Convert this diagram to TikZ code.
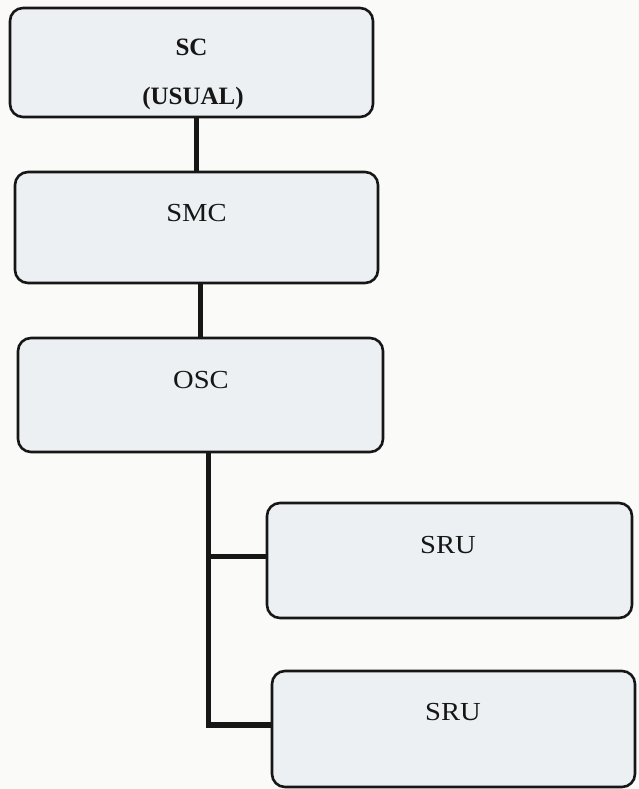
\documentclass[tikz,border=0pt]{standalone}
\usepackage{fontspec}
\setmainfont{Liberation Serif}
\usepackage{graphicx}
\definecolor{boxfill}{RGB}{236,240,243}
\definecolor{paper}{RGB}{250,250,249}
\definecolor{ink}{RGB}{22,22,22}
\begin{document}
\begin{tikzpicture}[x=1pt,y=-1pt,
  unitbox/.style={draw=ink, line width=2.6pt, fill=boxfill, rounded corners=13pt,
    rectangle, inner sep=0pt, minimum width=#1},
  unitbox/.default=364pt,
  plainlbl/.style={anchor=base, inner sep=0pt, text=ink,
    font=\fontsize{26}{30}\selectfont},
  boldlbl/.style={anchor=base, inner sep=0pt, text=ink,
    font=\fontsize{25}{30}\selectfont\bfseries},
  link/.style={draw=ink, line width=5.5pt, line join=miter}]
  % page
  \fill[paper] (0,0) rectangle (639,789);
  \useasboundingbox (0,0) rectangle (639,789);

  % boxes of the hierarchy
  \node[unitbox=363pt, minimum height=109pt] (sc)   at (191.5,62.5) {};
  \node[unitbox=363pt, minimum height=111pt] (smc)  at (196.5,227.5) {};
  \node[unitbox=365pt, minimum height=114pt] (osc)  at (200.5,395) {};
  \node[unitbox=365pt, minimum height=115pt] (sru1) at (449.5,560.5) {};
  \node[unitbox=363pt, minimum height=116pt] (sru2) at (453.5,729) {};

  % labels
  \node[boldlbl]  (sct)   at (191.5,56)  {SC};
  \node[boldlbl]  (scu)   at (193,105)   {(USUAL)};
  \node[plainlbl] (smct)  at (196.5,221) {\scalebox{1.1}[1]{SMC}};
  \node[plainlbl] (osct)  at (201,388)   {\scalebox{1.1}[1]{OSC}};
  \node[plainlbl] (sru1t) at (448,553)   {\scalebox{1.1}[1]{SRU}};
  \node[plainlbl] (sru2t) at (453,720)   {\scalebox{1.1}[1]{SRU}};

  % connectors
  \draw[link] (sc.south -| smc.north) -- (smc.north);
  \draw[link] (smc.south -| osc.north) -- (osc.north);
  \coordinate (trunk) at ([xshift=8pt]osc.south);
  \draw[link] (trunk) |- ([yshift=4pt]sru1.west);
  \draw[link] (trunk) |- ([yshift=4pt]sru2.west);
\end{tikzpicture}
\end{document}
